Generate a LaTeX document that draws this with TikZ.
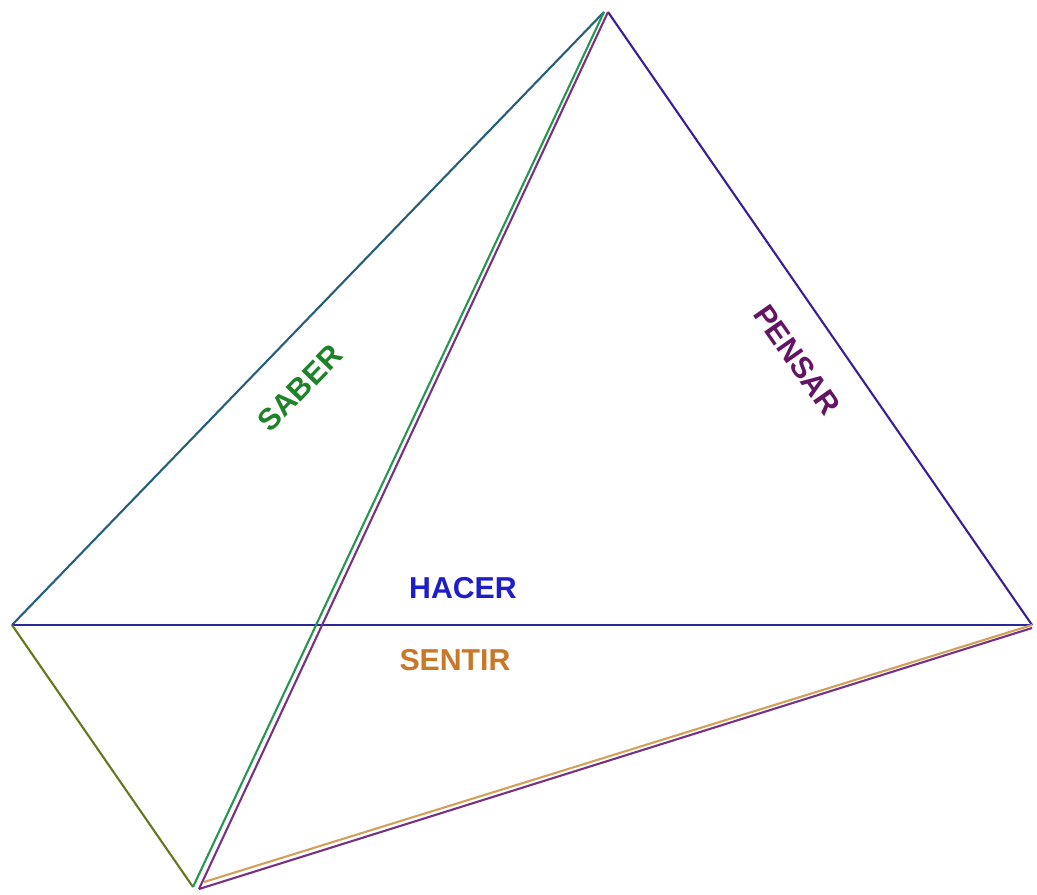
\documentclass[tikz,border=0pt]{standalone}
\usepackage{fontspec}
\setmainfont{Liberation Sans}
\usepackage{tikz}
\usetikzlibrary{calc}
\definecolor{cteal}{RGB}{40,95,120}
\definecolor{cindigo}{RGB}{60,30,150}
\definecolor{cblue}{RGB}{40,40,150}
\definecolor{colive}{RGB}{100,120,30}
\definecolor{cgreen}{RGB}{40,150,80}
\definecolor{cpurple}{RGB}{120,50,130}
\definecolor{corange}{RGB}{210,160,90}
\definecolor{tsaber}{RGB}{30,130,40}
\definecolor{tpensar}{RGB}{100,20,100}
\definecolor{thacer}{RGB}{30,30,200}
\definecolor{tsentir}{RGB}{200,120,40}

\begin{document}
\begin{tikzpicture}[x=0.01cm,y=-0.01cm,font=\bfseries\fontsize{8.6}{10}\selectfont,
  edge/.style={line width=0.6pt},
  lbl/.style={inner sep=0pt},
]
\useasboundingbox (0,0) rectangle (1037,894);
% vertices
\coordinate (top) at (604,12);
\coordinate (topb) at (608,12);
\coordinate (left) at (12,625);
\coordinate (right) at (1032,625);
\coordinate (rightb) at (1032,628);
\coordinate (bot) at (193,887);
\coordinate (botb) at (199,889);
\coordinate (botc) at (204,882);
% edges
\draw[edge,cteal] (left) -- (top);
\draw[edge,cindigo] (topb) -- (right);
\draw[edge,cblue] (left) -- (right);
\draw[edge,colive] (left) -- (bot);
\draw[edge,cgreen] (top) -- (bot);
\draw[edge,cpurple] (topb) -- (botb);
\draw[edge,corange] (botc) -- (right);
\draw[edge,cpurple] (botb) -- (rightb);
% labels
\node[lbl,tsaber,rotate=46] (saber) at (300,388) {SABER};
\node[lbl,tpensar,rotate=-55] (pensar) at (797,360) {PENSAR};
\node[lbl,thacer] (hacer) at (463,588) {HACER};
\node[lbl,tsentir] (sentir) at (455,660) {SENTIR};
\end{tikzpicture}
\end{document}
